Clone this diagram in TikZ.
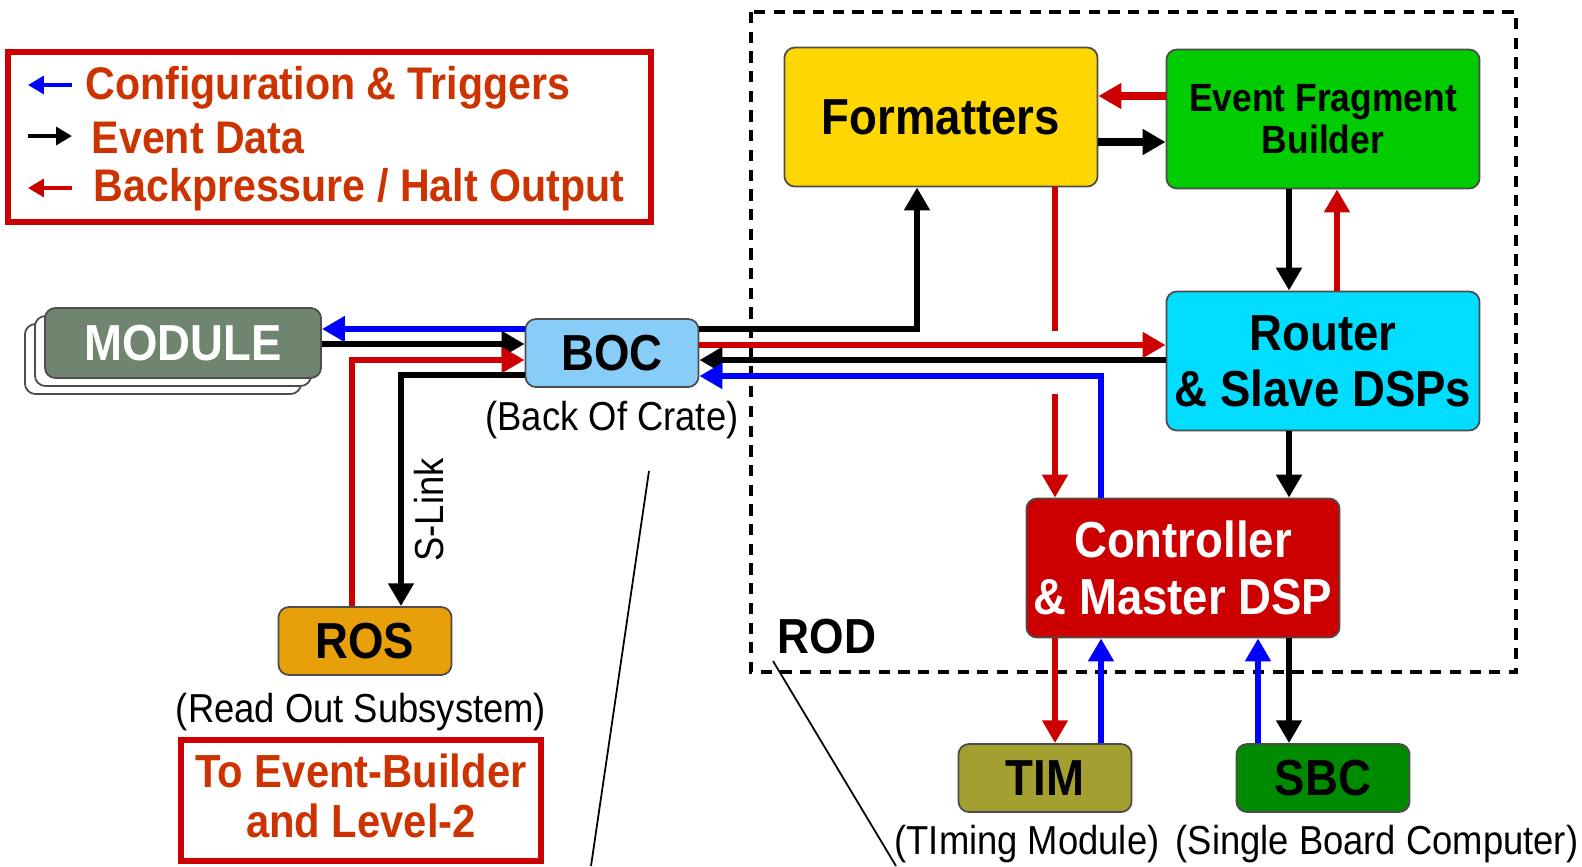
\documentclass[tikz,border=0pt]{standalone}
\usepackage{fontspec}
\setmainfont{Liberation Sans}[FakeStretch=0.9]
\usetikzlibrary{positioning, calc, arrows.meta}
\definecolor{LegendText}{RGB}{204,51,0}
\definecolor{HaltRed}{RGB}{204,0,0}
\definecolor{CfgBlue}{RGB}{0,0,255}
\definecolor{ModGreen}{HTML}{6F8570}
\definecolor{BocBlue}{HTML}{88CCF8}
\definecolor{FmtGold}{HTML}{FFD700}
\definecolor{EfbGreen}{HTML}{00CC00}
\definecolor{RtrCyan}{HTML}{00DDFF}
\definecolor{CtlRed}{HTML}{CC0000}
\definecolor{RosOrange}{HTML}{E8A00A}
\definecolor{TimOlive}{HTML}{A39F30}
\definecolor{SbcGreen}{HTML}{008A00}
\tikzset{
    block/.style={rectangle, rounded corners=3pt, draw=black!70, line width=0.5pt, align=center, inner sep=1pt, font=\fontsize{14.4}{17}\selectfont\bfseries},
    bigblock/.style={block, minimum width=3.13cm, minimum height=1.39cm},
    smallblock/.style={block, minimum width=1.73cm, minimum height=0.68cm},
    caption/.style={font=\fontsize{11.5}{13}\selectfont, inner sep=0pt},
    legtext/.style={text=LegendText, font=\fontsize{13}{15}\selectfont\bfseries, anchor=west, inner sep=0pt},
    evline/.style={-{Triangle[length=6.5pt,width=7pt]}, line width=1.9pt, draw=black},
    cfgline/.style={evline, draw=CfgBlue},
    haltline/.style={evline, draw=HaltRed},
    legarrow/.style={line width=1.3pt, -{Triangle[length=4.5pt,width=5pt]}},
}

\begin{document}
\begin{tikzpicture}[x=0.01cm, y=-0.01cm]
    \useasboundingbox (0,0) rectangle (1582,866);

    % ROD frame
    \draw[dash pattern=on 3.2pt off 2.4pt, line width=1.1pt] (751,12) rectangle (1516,672);
    \node[anchor=west, inner sep=0pt, font=\fontsize{14}{16}\selectfont\bfseries] (rod) at (777,637) {ROD};

    % legend
    \draw[HaltRed, line width=1.5pt] (8,52) rectangle (651,222);
    \coordinate (lg1a) at (28,85);  \coordinate (lg1b) at (72,85);
    \coordinate (lg2a) at (28,136); \coordinate (lg2b) at (72,136);
    \coordinate (lg3a) at (28,188); \coordinate (lg3b) at (72,188);
    \draw[cfgline, legarrow] (lg1b) -- (lg1a);
    \draw[evline, legarrow] (lg2a) -- (lg2b);
    \draw[haltline, legarrow] (lg3b) -- (lg3a);
    \node[legtext] (lgcfg) at (85,88) {Configuration \& Triggers};
    \node[legtext] (lgev) at (91,138) {Event Data};
    \node[legtext] (lghalt) at (93,190) {Backpressure / Halt Output};

    % blocks
    \node[block, fill=white, minimum width=2.76cm, minimum height=0.70cm] (module3) at (163,359) {};
    \node[block, fill=white, minimum width=2.76cm, minimum height=0.70cm] (module2) at (173,351) {};
    \node[block, fill=ModGreen, text=white, minimum width=2.76cm, minimum height=0.70cm] (module) at (183,343) {MODULE};
    \node[smallblock, fill=BocBlue] (boc) at (612,353) {BOC};
    \node[caption] (boccap) at (612,420) {(Back Of Crate)};
    \node[smallblock, fill=RosOrange] (ros) at (365,641) {ROS};
    \node[caption] (roscap) at (361,712) {(Read Out Subsystem)};

    \node[bigblock, fill=FmtGold] (fmt) at (941,117) {Formatters};
    \node[bigblock, fill=EfbGreen, font=\fontsize{11.2}{12}\selectfont\bfseries] (efb) at (1323,119) {Event Fragment\\Builder};
    \node[bigblock, fill=RtrCyan] (rtr) at (1323,361) {Router\\[-1pt]\& Slave DSPs};
    \node[bigblock, fill=CtlRed, text=white] (ctl) at (1183,568) {Controller\\[-1pt]\& Master DSP};
    \node[smallblock, fill=TimOlive] (tim) at (1045,778) {TIM};
    \node[smallblock, fill=SbcGreen] (sbc) at (1323,778) {SBC};
    \node[caption] (timcap) at (1027,844) {(TIming Module)};
    \node[caption] (sbccap) at (1377,844) {(Single Board Computer)};

    % output box
    \draw[HaltRed, line width=1.5pt] (181,740) rectangle (541,861);
    \node[legtext, anchor=center, align=center, font=\fontsize{13.2}{14.4}\selectfont\bfseries] (evb) at (361,796) {To Event-Builder\\and Level-2};

    % module <-> boc
    \draw[cfgline] (boc.west |- 0,329) -- (module.east |- 0,329);
    \draw[evline] (module.east |- 0,344) -- (boc.west |- 0,344);
    \draw[haltline] (ros.north -| 352,0) |- (boc.west |- 0,360);
    \draw[evline] (boc.west |- 0,375) -| (ros.north -| 401,0);
    \node[caption, rotate=90] (slink) at (429,510) {S-Link};

    % boc <-> rod
    \draw[evline] (boc.east |- 0,329) -| (fmt.south -| 917,0);
    \draw[haltline] (boc.east |- 0,345) -- (rtr.west |- 0,345);
    \draw[evline] (rtr.west |- 0,360) -- (boc.east |- 0,360);
    \draw[cfgline] (ctl.north -| 1101,0) |- (boc.east |- 0,376);

    % inside rod
    \coordinate (hopa) at (1055,331);
    \coordinate (hopb) at (1055,394);
    \draw[haltline, -] (fmt.south -| hopa) -- (hopa);
    \draw[haltline] (hopb) -- (ctl.north -| hopb);
    \draw[haltline, line width=2.4pt] (efb.west |- 0,96) -- (fmt.east |- 0,96);
    \draw[evline, line width=2.4pt] (fmt.east |- 0,142) -- (efb.west |- 0,142);
    \draw[evline] (efb.south -| 1289,0) -- (rtr.north -| 1289,0);
    \draw[haltline] (rtr.north -| 1337,0) -- (efb.south -| 1337,0);
    \draw[evline] (rtr.south -| 1289,0) -- (ctl.north -| 1289,0);

    % controller <-> tim, sbc
    \draw[haltline] (ctl.south -| 1055,0) -- (tim.north -| 1055,0);
    \draw[cfgline] (tim.north -| 1101,0) -- (ctl.south -| 1101,0);
    \draw[cfgline] (sbc.north -| 1258,0) -- (ctl.south -| 1258,0);
    \draw[evline] (ctl.south -| 1289,0) -- (sbc.north -| 1289,0);

    % zoom lines
    \coordinate (za) at (649,471); \coordinate (zb) at (591,866);
    \coordinate (zc) at (773,661); \coordinate (zd) at (896,866);
    \draw[line width=0.5pt] (za) -- (zb);
    \draw[line width=0.5pt] (zc) -- (zd);
\end{tikzpicture}
\end{document}
